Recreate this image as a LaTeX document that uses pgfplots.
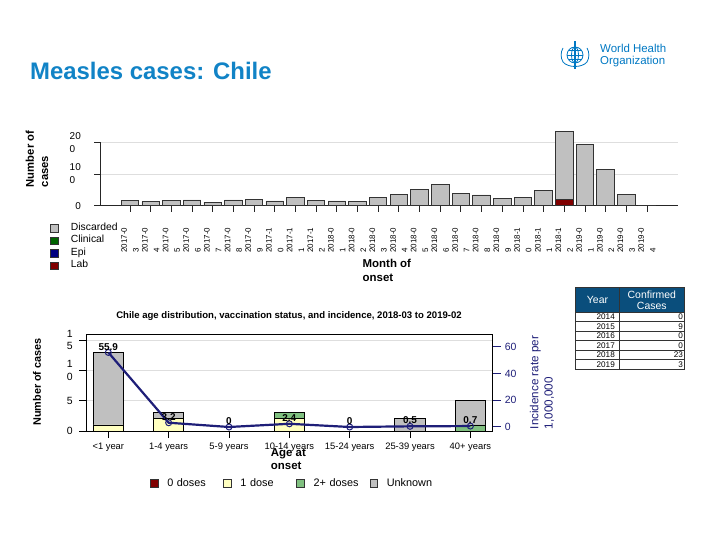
\documentclass[border=0pt]{standalone}
\usepackage{fontspec}
\setmainfont{Liberation Sans}
\usepackage{pgfplots}
\pgfplotsset{compat=1.18}
\definecolor{titleblue}{RGB}{17,131,198}
\definecolor{whoblue}{RGB}{0,120,195}
\definecolor{hdrblue}{RGB}{10,78,124}
\definecolor{incnavy}{RGB}{30,30,120}
\definecolor{discgray}{RGB}{192,192,192}
\definecolor{clingreen}{RGB}{0,100,0}
\definecolor{epiblue}{RGB}{0,0,128}
\definecolor{labred}{RGB}{128,0,0}
\definecolor{oneyellow}{RGB}{255,255,192}
\definecolor{twogreen}{RGB}{128,192,128}
\newcommand{\fs}[2]{\fontsize{#1}{#2}\selectfont}
\pgfplotsset{sqlegend/.style={legend image code/.code={\draw[##1,draw=black!80,line width=0.7bp] (0bp,-3.6bp) rectangle (7.5bp,3.9bp);}}}
\begin{document}
\begin{tikzpicture}
\path[use as bounding box] (0,0) rectangle (720bp,540bp);
% title
\node[anchor=base west, inner sep=0pt, font=\bfseries\fs{24}{28}, text=titleblue] at (30bp,460bp) {Measles cases: Chile};
% WHO logo
\begin{scope}[draw=whoblue, line width=0.8bp]
\draw (575bp,485bp) circle (8bp);
\draw (575bp,485bp) ellipse (3.5bp and 8bp);
\draw (567bp,485bp) -- (583bp,485bp);
\draw (568.5bp,489.5bp) -- (581.5bp,489.5bp);
\draw (568.5bp,480.5bp) -- (581.5bp,480.5bp);
\draw[line width=1.2bp] (575bp,471bp) -- (575bp,499bp);
\draw (563bp,478bp) arc (210:150:14bp);
\draw (587bp,478bp) arc (-30:30:14bp);
\draw (563bp,478bp) .. controls (568bp,472bp) and (582bp,472bp) .. (587bp,478bp);
\end{scope}
\node[anchor=west, inner sep=0pt, align=left, font=\fs{11.5}{12}, text=whoblue] at (600bp,484.3bp) {World Health\\Organization};
% ---------------- top chart ----------------
\begin{axis}[
 at={(100bp,334.3bp)}, anchor=south west,
 scale only axis, width=578bp, height=63.4bp,
 xmin=-1.45, xmax=26.5, ymin=0, ymax=200,
 ybar stacked, bar width=17.5bp, clip=false,
 axis x line*=bottom, axis y line*=left,
 axis line style={-, draw=black!85, line width=1bp},
 xtick={0,...,25},
 xticklabels={{2017-0\\3},{2017-0\\4},{2017-0\\5},{2017-0\\6},{2017-0\\7},{2017-0\\8},{2017-0\\9},{2017-1\\0},{2017-1\\1},{2017-1\\2},{2018-0\\1},{2018-0\\2},{2018-0\\3},{2018-0\\4},{2018-0\\5},{2018-0\\6},{2018-0\\7},{2018-0\\8},{2018-0\\9},{2018-1\\0},{2018-1\\1},{2018-1\\2},{2019-0\\1},{2019-0\\2},{2019-0\\3},{2019-0\\4}},
 ytick={0,100,200}, yticklabels={0,{10\\0},{20\\0}},
 tick align=outside, major tick length=6bp,
 tick style={draw=black!85, line width=0.8bp},
 ymajorgrids, grid style={draw=black!13, line width=0.8bp},
 xticklabel style={yshift=-16bp, rotate=90, anchor=east, align=left, font=\fs{8}{11.7}, inner sep=0pt},
 yticklabel style={anchor=east, align=left, font=\fs{10}{13}, inner sep=0pt, xshift=-13bp},
 /pgf/number format/assume math mode=true,
 reverse legend,
 legend style={draw=none, fill=none, at={(axis description cs:-0.0865,-0.257)}, anchor=north west, inner sep=0pt, font=\fs{10.4}{12.5}, row sep=0bp, cells={anchor=west}, nodes={inner sep=0pt, text height=8bp, text depth=4.5bp}, /tikz/every odd column/.append style={column sep=12.5bp}},
]
\addplot[sqlegend, fill=labred, draw=black!80, line width=0.8bp] coordinates {(0,0) (1,0) (2,0) (3,0) (4,0) (5,0) (6,0) (7,0) (8,0) (9,0) (10,0) (11,0) (12,0) (13,0) (14,0) (15,0) (16,0) (17,0) (18,0) (19,0) (20,2) (21,21) (22,2) (23,1) (24,0) (25,0)};
\addplot[sqlegend, fill=epiblue, draw=black!80, line width=0.8bp] coordinates {(0,0) (1,0) (2,0) (3,0) (4,0) (5,0) (6,0) (7,0) (8,0) (9,0) (10,0) (11,0) (12,0) (13,0) (14,0) (15,0) (16,0) (17,0) (18,0) (19,0) (20,0) (21,0) (22,0) (23,0) (24,0) (25,0)};
\addplot[sqlegend, fill=clingreen, draw=black!80, line width=0.8bp] coordinates {(0,0) (1,0) (2,0) (3,0) (4,0) (5,0) (6,0) (7,0) (8,0) (9,0) (10,0) (11,0) (12,0) (13,0) (14,0) (15,0) (16,0) (17,0) (18,0) (19,0) (20,0) (21,0) (22,0) (23,0) (24,0) (25,0)};
\addplot[sqlegend, fill=discgray, draw=black!80, line width=0.8bp] coordinates {(0,17) (1,12) (2,17) (3,18) (4,11) (5,18) (6,20) (7,15) (8,26) (9,17) (10,15) (11,12) (12,26) (13,35) (14,50) (15,66) (16,38) (17,34) (18,23) (19,26) (20,45) (21,214) (22,192) (23,113) (24,35) (25,1)};
\legend{Lab,Epi,Clinical,Discarded}
\end{axis}
\node[rotate=90, align=left, inner sep=0pt, font=\bfseries\fs{11.3}{14.5}] at (37bp,381bp) {Number of\\cases};
\node[anchor=west, align=left, inner sep=0pt, font=\bfseries\fs{11.5}{14.4}] at (362.5bp,269.5bp) {Month of\\onset};
% ---------------- bottom chart ----------------
\begin{axis}[
 at={(86bp,109bp)}, anchor=south west,
 scale only axis, width=406.7bp, height=96.7bp,
 xmin=-0.37, xmax=6.37, ymin=0, ymax=15.95,
 ybar stacked, bar width=30.3bp,
 axis line style={draw=black, line width=1bp},
 xtick={0,...,6},
 xticklabels={{<1 year},{1-4 years},{5-9 years},{10-14 years},{15-24 years},{25-39 years},{40+ years}},
 ytick={0,5,10,15}, yticklabels={0,5,{1\\0},{1\\5}},
 xtick pos=bottom, ytick pos=left,
 tick align=outside, major tick length=7bp,
 tick style={draw=black, line width=0.8bp},
 ymajorgrids, grid style={draw=black!13, line width=0.8bp},
 xticklabel style={font=\fs{9.4}{11}, inner sep=0pt, yshift=-5bp},
 yticklabel style={anchor=east, align=left, font=\fs{10.5}{12.4}, inner sep=0pt, xshift=-6bp},
 /pgf/number format/assume math mode=true,
 legend columns=4,
 legend style={draw=none, fill=none, at={(axis description cs:0.157,-0.545)}, anchor=west, inner sep=0pt, font=\fs{10.9}{13}, cells={anchor=west}, nodes={inner sep=0pt}, /tikz/every odd column/.append style={column sep=9bp}, /tikz/every even column/.append style={text width=48bp, column sep=8bp}},
]
\addplot[sqlegend, fill=labred, draw=black, line width=0.8bp] coordinates {(0,0) (1,0) (2,0) (3,0) (4,0) (5,0) (6,0)};
\addplot[sqlegend, fill=oneyellow, draw=black, line width=0.8bp] coordinates {(0,1) (1,2) (2,0) (3,2) (4,0) (5,0) (6,0)};
\addplot[sqlegend, fill=twogreen, draw=black, line width=0.8bp] coordinates {(0,0) (1,0) (2,0) (3,1) (4,0) (5,0) (6,1)};
\addplot[sqlegend, fill=discgray, draw=black, line width=0.8bp] coordinates {(0,12) (1,1) (2,0) (3,0) (4,0) (5,2) (6,4)};
\legend{0 doses,1 dose,2+ doses,Unknown}
\end{axis}
\begin{axis}[
 at={(86bp,109bp)}, anchor=south west,
 scale only axis, width=406.7bp, height=96.7bp,
 xmin=-0.37, xmax=6.37, ymin=-3, ymax=69.5,
 axis x line=none, axis y line*=right,
 axis line style={-, draw=black, line width=1bp},
 ytick={0,20,40,60},
 tick align=outside, major tick length=8bp,
 ytick style={draw=incnavy, line width=1bp},
 yticklabel style={text=incnavy, font=\fs{10.5}{12}, inner sep=0pt, xshift=4bp},
 /pgf/number format/assume math mode=true,
 clip=false,
 nodes near coords, point meta=explicit symbolic,
 every node near coord/.append style={font=\bfseries\fs{10}{12}, text=black, anchor=base, inner sep=0pt, yshift=2.4bp},
]
\addplot[incnavy, line width=2.2bp, mark=o, mark size=3bp, mark options={line width=1bp, fill=none}] coordinates {(0,55.9)[55.9] (1,3.2)[3.2] (2,0)[0] (3,2.4)[2.4] (4,0)[0] (5,0.5)[0.5] (6,0.7)[0.7]};
\end{axis}
\node[anchor=center, inner sep=0pt, font=\bfseries\fs{9.6}{11}] at (289bp,224.3bp) {Chile age distribution, vaccination status, and incidence, 2018-03 to 2019-02};
\node[rotate=90, inner sep=0pt, font=\bfseries\fs{10.9}{13}] at (37bp,158bp) {Number of cases};
\node[rotate=90, align=left, inner sep=0pt, font=\fs{11.7}{14.3}, text=incnavy] at (542bp,157.5bp) {Incidence rate per\\1,000,000};
\node[anchor=west, align=left, inner sep=0pt, font=\bfseries\fs{11.5}{13.4}] at (270.7bp,81bp) {Age at\\onset};
% ---------------- table ----------------
\fill[hdrblue] (575.7bp,227.7bp) rectangle (684.3bp,252.7bp);
\begin{scope}[draw=black!80, line width=0.8bp]
\draw (575.7bp,170.7bp) rectangle (684.3bp,252.7bp);
\draw (619.3bp,170.7bp) -- (619.3bp,252.7bp);
\foreach \yy in {227.7,218.2,208.7,199.2,189.7,180.2} {\draw (575.7bp,\yy bp) -- (684.3bp,\yy bp);}
\end{scope}
\node[text=white, font=\fs{10.5}{12}, inner sep=0pt] at (597.5bp,240.2bp) {Year};
\node[text=white, font=\fs{10.5}{11.3}, align=center, inner sep=0pt] at (651.8bp,239.7bp) {Confirmed\\Cases};
\foreach \yr/\cs [count=\i] in {2014/0,2015/9,2016/0,2017/0,2018/23,2019/3} {
 \pgfmathsetmacro{\yb}{227.7-9.5*\i+2.0}
 \node[anchor=base east, inner sep=0pt, font=\fs{8.2}{9}] at (615bp,\yb bp) {\yr};
 \node[anchor=base east, inner sep=0pt, font=\fs{8.2}{9}] at (683.2bp,\yb bp) {\cs};
}
\end{tikzpicture}
\end{document}
